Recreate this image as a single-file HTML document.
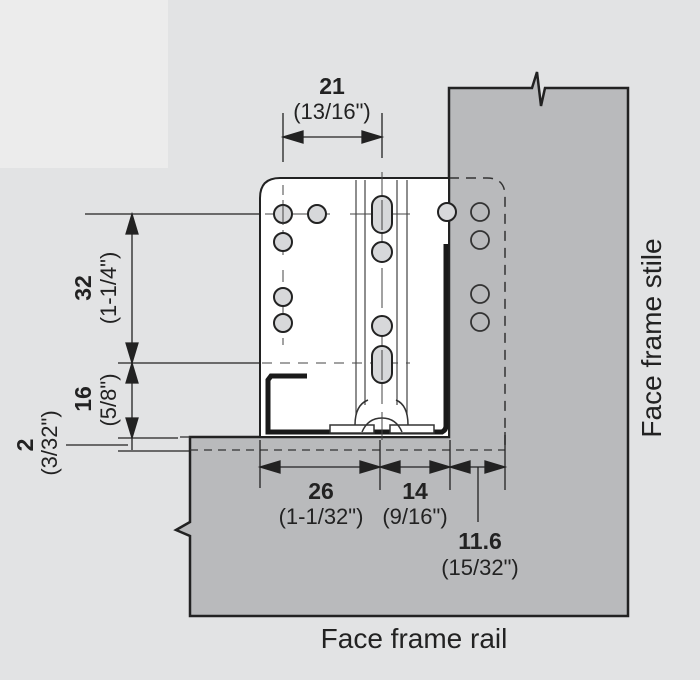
<!DOCTYPE html>
<html><head><style>html,body{margin:0;padding:0;background:#e2e3e4;}svg{display:block}</style></head>
<body>
<svg width="700" height="680" viewBox="0 0 700 680" xmlns="http://www.w3.org/2000/svg" font-family="Liberation Sans, Arial, sans-serif">
<rect width="700" height="680" fill="#e2e3e4"/>
<rect width="168" height="168" fill="#ececec"/>
<!-- stile + rail -->
<path d="M449,88 L532,88 L537,72 L541,106 L545,88 L628,88 L628,616 L190,616 L190,536 L176,530 L190,522 L190,437 L449,437 Z" fill="#b9babc" stroke="#222" stroke-width="2.5"/>
<!-- dashed outline of bracket hidden part -->
<path d="M449,178 L487,178 Q505,178 505,196 L505,445" fill="none" stroke="#333" stroke-width="1.5" stroke-dasharray="10,7"/>
<path d="M190,450 L505,450" fill="none" stroke="#333" stroke-width="1.3" stroke-dasharray="8,6"/>
<path d="M190,437 L180,437" stroke="#333" stroke-width="1.3"/>
<!-- bracket -->
<path d="M260,437 L260,198 Q260,178 280,178 L449,178 L449,437 Z" fill="#fff" stroke="#222" stroke-width="2"/>
<!-- rail lines -->
<g stroke="#444" stroke-width="1.2">
<line x1="356" y1="180" x2="356" y2="415"/><line x1="365" y1="180" x2="365" y2="405"/>
<line x1="397" y1="180" x2="397" y2="405"/><line x1="407" y1="180" x2="407" y2="415"/>
</g>
<!-- dark L profile -->
<path d="M307,376 L271,376 L268,380 L268,432 L442,432 Q446,430 446,426 L446,244" fill="none" stroke="#1a1a1a" stroke-width="5"/>
<!-- clip detail -->
<g fill="#fff" stroke="#333" stroke-width="1.5">
<rect x="330" y="425" width="44" height="8"/><rect x="390" y="425" width="44" height="8"/>
<path d="M355,425 Q355,405 368,400 M408,425 Q408,405 396,400" fill="none"/>
<path d="M362,432 Q368,418 382,418 Q396,418 402,432" fill="none"/>
</g>
<!-- center lines -->
<g stroke="#444" stroke-width="1" fill="none">
<line x1="283" y1="185" x2="283" y2="255" stroke-dasharray="10,5"/>
<line x1="283" y1="270" x2="283" y2="345" stroke-dasharray="12,5"/>
<line x1="382" y1="172" x2="382" y2="440" stroke-dasharray="40,8"/>
<line x1="262" y1="363" x2="410" y2="363" stroke-dasharray="10,8"/>
<line x1="265" y1="214" x2="330" y2="214"/>
<line x1="350" y1="214" x2="410" y2="214"/>
</g>
<!-- holes -->
<g fill="#d7d8da" stroke="#222" stroke-width="2">
<circle cx="283" cy="214" r="9"/><circle cx="317" cy="214" r="9"/>
<circle cx="283" cy="242" r="9"/><circle cx="283" cy="297" r="9"/><circle cx="283" cy="323" r="9"/>
<rect x="372" y="196" width="20" height="37" rx="10"/>
<circle cx="382" cy="252" r="10"/><circle cx="382" cy="326" r="10"/>
<rect x="372" y="346" width="20" height="37" rx="10"/>
<circle cx="447" cy="212" r="9"/>
</g>
<g fill="none" stroke="#333" stroke-width="1.8">
<circle cx="480" cy="212" r="9"/><circle cx="480" cy="240" r="9"/><circle cx="480" cy="294" r="9"/><circle cx="480" cy="322" r="9"/>
</g>
<g stroke="#444" stroke-width="1"><line x1="283" y1="205" x2="283" y2="225"/><line x1="382" y1="200" x2="382" y2="230"/><line x1="382" y1="350" x2="382" y2="380"/></g>
<!-- dimension lines -->
<g stroke="#222" stroke-width="1.3" fill="#222">
<line x1="283" y1="113" x2="283" y2="162"/><line x1="382" y1="113" x2="382" y2="158"/>
<line x1="292" y1="137" x2="373" y2="137"/>
<path d="M283,137 L303,131 L303,143 Z"/><path d="M382,137 L362,131 L362,143 Z"/>
<line x1="85" y1="214" x2="260" y2="214"/>
<line x1="118" y1="363" x2="260" y2="363"/>
<line x1="118" y1="438" x2="178" y2="438"/>
<line x1="118" y1="451" x2="190" y2="451"/>
<line x1="132" y1="220" x2="132" y2="450"/>
<path d="M132,214 L126,234 L138,234 Z"/><path d="M132,363 L126,343 L138,343 Z"/>
<path d="M132,363 L126,383 L138,383 Z"/><path d="M132,438 L126,418 L138,418 Z"/>
<line x1="66" y1="445" x2="128" y2="445"/>
<line x1="260" y1="440" x2="260" y2="488"/><line x1="380" y1="440" x2="380" y2="490"/>
<line x1="450" y1="440" x2="450" y2="490"/><line x1="505" y1="432" x2="505" y2="490"/>
<line x1="262" y1="467" x2="503" y2="467"/>
<path d="M260,467 L280,461 L280,473 Z"/><path d="M380,467 L360,461 L360,473 Z"/>
<path d="M380,467 L400,461 L400,473 Z"/><path d="M450,467 L430,461 L430,473 Z"/>
<path d="M450,467 L470,461 L470,473 Z"/><path d="M505,467 L485,461 L485,473 Z"/>
<line x1="478" y1="467" x2="478" y2="522"/>
</g>
<!-- text -->
<g fill="#222" text-anchor="middle">
<text x="332" y="94" font-size="23" font-weight="bold">21</text>
<text x="332" y="119" font-size="22">(13/16")</text>
<text x="321" y="499" font-size="23" font-weight="bold">26</text>
<text x="321" y="524" font-size="22">(1-1/32")</text>
<text x="415" y="499" font-size="23" font-weight="bold">14</text>
<text x="415" y="524" font-size="22">(9/16")</text>
<text x="480" y="549" font-size="23" font-weight="bold">11.6</text>
<text x="480" y="575" font-size="22">(15/32")</text>
<text x="414" y="648" font-size="28">Face frame rail</text>
<text transform="translate(661,338) rotate(-90)" font-size="28">Face frame stile</text>
<text transform="translate(91,288) rotate(-90)" font-size="23" font-weight="bold">32</text>
<text transform="translate(116,288) rotate(-90)" font-size="22">(1-1/4")</text>
<text transform="translate(91,399) rotate(-90)" font-size="23" font-weight="bold">16</text>
<text transform="translate(116,400) rotate(-90)" font-size="22">(5/8")</text>
<text transform="translate(33,445) rotate(-90)" font-size="23" font-weight="bold">2</text>
<text transform="translate(57,443) rotate(-90)" font-size="22">(3/32")</text>
</g>
</svg>
</body></html>
